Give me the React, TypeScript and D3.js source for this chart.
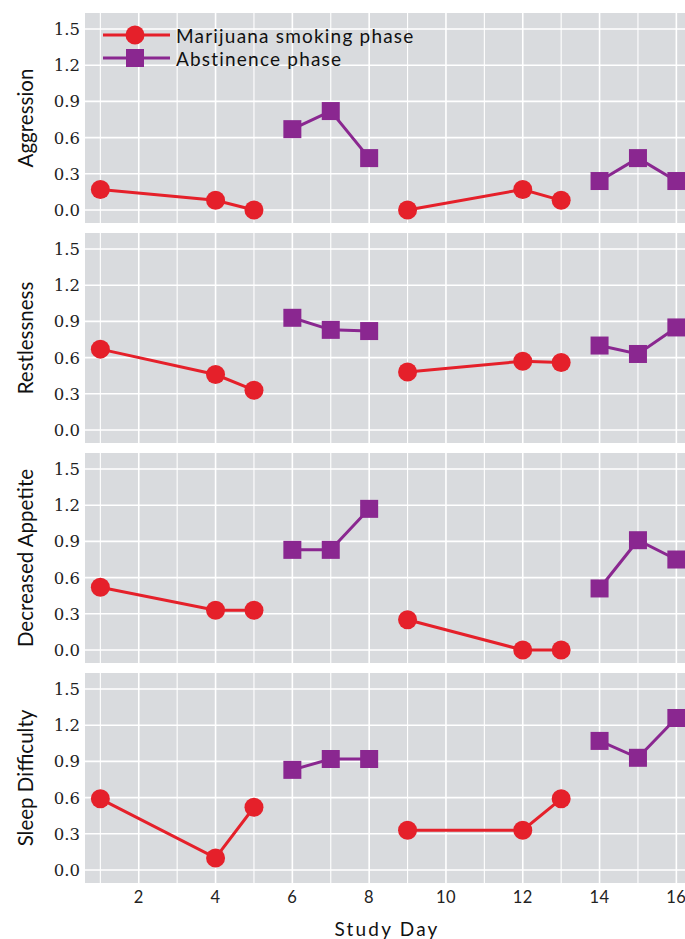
import React from "react";
import * as d3 from "d3";

// study days, split into the two runs of each phase
const smokingDays = [[1, 4, 5], [9, 12, 13]];
const abstinenceDays = [[6, 7, 8], [14, 15, 16]];

const measures = ["Aggression", "Restlessness", "Decreased Appetite", "Sleep Difficulty"];

const aggressionSmoking = [0.17, 0.08, 0.0, 0.0, 0.17, 0.08];
const aggressionAbstinence = [0.67, 0.82, 0.43, 0.24, 0.43, 0.24];
const restlessSmoking = [0.67, 0.46, 0.33, 0.48, 0.57, 0.56];
const restlessAbstinence = [0.93, 0.83, 0.82, 0.7, 0.63, 0.85];
const appetiteSmoking = [0.52, 0.33, 0.33, 0.25, 0.0, 0.0];
const appetiteAbstinence = [0.83, 0.83, 1.17, 0.51, 0.91, 0.75];
const sleepSmoking = [0.59, 0.1, 0.52, 0.33, 0.33, 0.59];
const sleepAbstinence = [0.83, 0.92, 0.92, 1.07, 0.93, 1.26];

const smokingSeries = [aggressionSmoking, restlessSmoking, appetiteSmoking, sleepSmoking];
const abstinenceSeries = [aggressionAbstinence, restlessAbstinence, appetiteAbstinence, sleepAbstinence];

const yTicks = [0, 0.3, 0.6, 0.9, 1.2, 1.5];
const xTickLabels = [2, 4, 6, 8, 10, 12, 14, 16];
const allDays = d3.range(1, 17);

const RED = "#e5202a";
const PURPLE = "#8a2790";
const BG = "#d9dbde";

const panelLeft = 85;
const panelTops = [13, 233, 453, 673];
const panelH = 210;

const x = d3.scaleLinear().domain([0.6, 16.4]).range([panelLeft, panelLeft + 15.8 * 38.4]);

function splitRuns(values: number[], runs: number[][]) {
  let i = 0;
  return runs.map((days) => days.map((d) => ({ day: d, v: values[i++] })));
}

const Panel = ({ idx }: { idx: number }) => {
  const top = panelTops[idx];
  const y = d3.scaleLinear().domain([-0.108, 1.633]).range([top + panelH, top]);
  const line = d3
    .line<{ day: number; v: number }>()
    .x((p) => x(p.day))
    .y((p) => y(p.v));
  const smoke = splitRuns(smokingSeries[idx], smokingDays);
  const abst = splitRuns(abstinenceSeries[idx], abstinenceDays);
  const right = x.range()[1];
  return (
    <g>
      <rect x={panelLeft} y={top} width={right - panelLeft} height={panelH} fill={BG} />
      {allDays.map((d) => (
        <line key={"v" + d} x1={x(d)} x2={x(d)} y1={top} y2={top + panelH} stroke="#fff" strokeWidth={d % 2 === 0 ? 1.6 : 1.1} />
      ))}
      {yTicks.map((t) => (
        <line key={"h" + t} x1={panelLeft} x2={right} y1={y(t)} y2={y(t)} stroke="#fff" strokeWidth={1.6} />
      ))}
      {yTicks.map((t) => (
        <text key={"t" + t} x={80} y={y(t)} dy="0.36em" textAnchor="end" fontFamily="DejaVu Serif" fontSize={16.5} fill="#222">
          {t.toFixed(1)}
        </text>
      ))}
      <text
        transform={`translate(33,${top + panelH / 2}) rotate(-90)`}
        textAnchor="middle"
        fontFamily="Lato"
        fontSize={20.5}
        fill="#111"
      >
        {measures[idx]}
      </text>
      {smoke.map((run, k) => (
        <path key={"sl" + k} d={line(run) || ""} fill="none" stroke={RED} strokeWidth={3} />
      ))}
      {abst.map((run, k) => (
        <path key={"al" + k} d={line(run) || ""} fill="none" stroke={PURPLE} strokeWidth={3} />
      ))}
      {smoke.flat().map((p) => (
        <circle key={"sc" + p.day} cx={x(p.day)} cy={y(p.v)} r={9.5} fill={RED} />
      ))}
      {abst.flat().map((p) => (
        <rect key={"as" + p.day} x={x(p.day) - 9} y={y(p.v) - 9} width={18} height={18} fill={PURPLE} />
      ))}
    </g>
  );
};

export default function App() {
  const bottom = panelTops[3] + panelH;
  return (
    <svg width={685} height={939} style={{ position: "absolute", left: 0, top: 0 }}>
      <rect width={685} height={939} fill="#fff" />
      {measures.map((m, i) => (
        <Panel key={m} idx={i} />
      ))}
      {/* legend */}
      <g>
        <line x1={103} x2={170} y1={35} y2={35} stroke={RED} strokeWidth={3} />
        <circle cx={135} cy={35} r={9.5} fill={RED} />
        <text x={176} y={36} dy="0.35em" fontFamily="Lato" fontSize={19} letterSpacing={1.2} fill="#111">
          Marijuana smoking phase
        </text>
        <line x1={103} x2={170} y1={58} y2={58} stroke={PURPLE} strokeWidth={3} />
        <rect x={126} y={49} width={18} height={18} fill={PURPLE} />
        <text x={176} y={59} dy="0.35em" fontFamily="Lato" fontSize={19} letterSpacing={1.2} fill="#111">
          Abstinence phase
        </text>
      </g>
      {xTickLabels.map((t) => (
        <text key={"x" + t} x={x(t)} y={bottom + 20} textAnchor="middle" fontFamily="Lato" fontSize={16.5} letterSpacing={0.5} fill="#222">
          {t}
        </text>
      ))}
      <text x={387} y={bottom + 53} textAnchor="middle" fontFamily="Lato" fontSize={19} letterSpacing={2.2} fill="#111">
        Study Day
      </text>
    </svg>
  );
}
